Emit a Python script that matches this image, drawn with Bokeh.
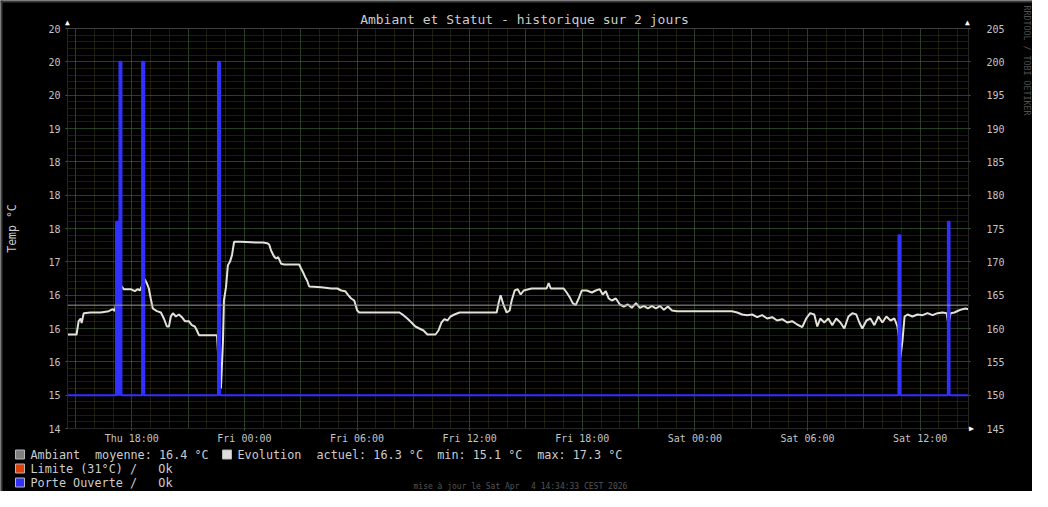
import math
from bokeh.plotting import figure
from bokeh.models import Range1d, LinearAxis, FixedTicker, Span
from bokeh.core.properties import value
from bokeh.embed import file_html
from bokeh.resources import INLINE

# ---------------- data ----------------
title_text = "Ambiant et Statut - historique sur 2 jours"
y_axis_title = "Temp °C"
watermark = "RRDTOOL / TOBI OETIKER"
footer_parts = ["mise à jour le Sat Apr", "4 14:34:33 CEST 2026"]

# time in hours since Thu 00:00
x_start, x_end = 14.576, 62.576
x_tick_hours = [18, 24, 30, 36, 42, 48, 54, 60]
x_tick_labels = ["Thu 18:00", "Fri 00:00", "Fri 06:00", "Fri 12:00",
                 "Fri 18:00", "Sat 00:00", "Sat 06:00", "Sat 12:00"]
x_grid_major = [15, 18, 21, 24, 27, 30, 33, 36, 39, 42, 45, 48, 51, 54, 57, 60]
x_grid_minor = [h for h in range(15, 63) if h % 3 != 0]

left_range = (14.5, 20.5)
left_tick_values = [14.5, 15.0, 15.5, 16.0, 16.5, 17.0, 17.5, 18.0, 18.5, 19.0, 19.5, 20.0, 20.5]
left_tick_labels = ["14", "15", "16", "16", "16", "17", "18", "18", "18", "19", "20", "20", "20"]
right_range = (145, 205)
right_tick_values = [145, 150, 155, 160, 165, 170, 175, 180, 185, 190, 195, 200, 205]

amb_hours = [14.58, 15.06, 15.17, 15.28, 15.33, 15.44, 15.81, 16.35, 16.77, 16.99, 17.09,
             17.20, 17.31, 17.41, 17.57, 17.95, 18.16, 18.32, 18.43, 18.53, 18.69, 18.80,
             18.91, 19.01, 19.12, 19.34, 19.55, 19.71, 19.87, 19.98, 20.08, 20.19, 20.35,
             20.51, 20.67, 20.83, 21.04, 21.20, 21.36, 21.47, 21.58, 22.22, 22.54, 22.65,
             22.75, 22.86, 22.91, 23.02, 23.12, 23.23, 23.34, 23.45, 23.82, 24.62, 24.99,
             25.21, 25.32, 25.42, 25.58, 25.69, 25.80, 25.96, 26.12, 26.92, 27.02, 27.13,
             27.24, 27.34, 27.45, 28.09, 28.63, 28.95, 29.16, 29.37, 29.53, 29.69, 29.85,
             30.01, 30.12, 32.26, 32.47, 32.68, 32.90, 33.11, 33.32, 33.54, 33.75, 34.18,
             34.34, 34.50, 34.66, 34.82, 34.98, 35.19, 35.46, 37.44, 37.54, 37.65, 37.81,
             37.97, 38.13, 38.24, 38.40, 38.56, 38.72, 38.88, 39.30, 40.10, 40.21, 40.32,
             41.01, 41.17, 41.33, 41.49, 41.65, 41.81, 41.97, 42.24, 42.51, 42.72, 42.93,
             43.09, 43.25, 43.41, 43.57, 43.79, 44.00, 44.21, 44.43, 44.64, 44.86, 45.07,
             45.28, 45.50, 45.71, 45.92, 46.14, 46.35, 46.56, 46.78, 47.05, 49.98, 50.25,
             50.52, 50.78, 51.05, 51.32, 51.58, 51.85, 52.12, 52.38, 52.65, 52.92, 53.18,
             53.45, 53.72, 53.93, 54.14, 54.36, 54.52, 54.68, 54.89, 55.11, 55.32, 55.53,
             55.75, 55.96, 56.18, 56.39, 56.60, 56.76, 56.92, 57.14, 57.35, 57.56, 57.78,
             57.99, 58.20, 58.42, 58.63, 58.79, 58.90, 58.95, 59.06, 59.17, 59.33, 59.59,
             59.86, 60.13, 60.39, 60.66, 60.93, 61.19, 61.41, 61.51, 61.62, 61.83, 62.05,
             62.26, 62.42, 62.57]
amb_temp = [15.91, 15.91, 16.11, 16.15, 16.08, 16.23, 16.24, 16.24, 16.26, 16.29, 16.26,
            16.42, 16.60, 16.65, 16.59, 16.59, 16.56, 16.59, 16.57, 16.63, 16.74, 16.68,
            16.60, 16.45, 16.30, 16.26, 16.24, 16.15, 16.03, 16.03, 16.18, 16.23, 16.18,
            16.21, 16.17, 16.11, 16.11, 16.05, 16.03, 15.97, 15.90, 15.90, 15.90, 15.37,
            15.10, 15.82, 16.42, 16.62, 16.95, 17.00, 17.10, 17.30, 17.30, 17.29, 17.29,
            17.28, 17.26, 17.17, 17.08, 17.05, 17.07, 16.97, 16.96, 16.96, 16.90, 16.84,
            16.77, 16.72, 16.63, 16.62, 16.60, 16.60, 16.57, 16.56, 16.50, 16.45, 16.42,
            16.27, 16.24, 16.24, 16.20, 16.15, 16.09, 16.03, 16.00, 15.97, 15.91, 15.91,
            15.97, 16.09, 16.14, 16.12, 16.18, 16.21, 16.24, 16.24, 16.38, 16.50, 16.35,
            16.24, 16.27, 16.42, 16.57, 16.59, 16.51, 16.57, 16.60, 16.60, 16.68, 16.60,
            16.60, 16.54, 16.47, 16.38, 16.35, 16.45, 16.57, 16.57, 16.54, 16.57, 16.59,
            16.51, 16.56, 16.45, 16.42, 16.45, 16.36, 16.33, 16.36, 16.31, 16.38, 16.31,
            16.34, 16.30, 16.34, 16.30, 16.34, 16.28, 16.33, 16.27, 16.26, 16.26, 16.24,
            16.21, 16.20, 16.21, 16.17, 16.20, 16.15, 16.17, 16.12, 16.14, 16.09, 16.11,
            16.06, 16.02, 16.15, 16.23, 16.21, 16.03, 16.15, 16.09, 16.15, 16.05, 16.15,
            16.09, 16.00, 16.18, 16.23, 16.21, 16.09, 16.00, 16.12, 16.15, 16.05, 16.18,
            16.09, 16.18, 16.12, 16.15, 16.03, 15.82, 15.57, 15.82, 16.18, 16.21, 16.18,
            16.21, 16.20, 16.23, 16.20, 16.23, 16.24, 16.23, 16.05, 16.23, 16.24, 16.27,
            16.29, 16.30, 16.29]
ambient_mean = 16.35

door_hours = [14.576, 17.162, 17.343, 17.450, 18.550, 18.667, 22.592, 22.698,
              58.843, 58.950, 61.476, 61.567, 62.576]
door_level = [15.0, 17.6, 20.0, 15.0, 20.0, 15.0, 20.0, 15.0, 17.4, 15.0, 17.6, 15.0, 15.0]
door_base = 15.0

# legend: (swatch colour, [text pieces]) per entry
legend_ambiant = ("#808080", ["Ambiant", "moyenne: 16.4 °C"])
legend_evolution = ("#dddddd", ["Evolution", "actuel: 16.3 °C", "min: 15.1 °C", "max: 17.3 °C"])
legend_limite = ("#e0400a", ["Limite (31°C) /", "Ok"])
legend_porte = ("#3030ff", ["Porte Ouverte /", "Ok"])

# ---------------- styling ----------------
MONO = "DejaVu Sans Mono"
BLUE = "#3030ff"
WHITE_LINE = "#e2e2da"
TXT = "#cccccc"

FL, FR, FT, FB = 67, 968, 28, 428      # frame edges in canvas pixels
W, H = 1032, 491


def dx(xp):
    return x_start + (xp - FL) / (FR - FL) * (x_end - x_start)


def dy(yp):
    return left_range[0] + (FB - yp) / (FB - FT) * (left_range[1] - left_range[0])


p = figure(frame_width=FR - FL, frame_height=FB - FT,
           min_border_left=FL, min_border_right=W - FR, min_border_top=FT, min_border_bottom=H - FB,
           x_range=Range1d(x_start, x_end), y_range=Range1d(*left_range),
           output_backend="svg", toolbar_location=None, title=None,
           background_fill_color="#000000", border_fill_color="#000000",
           outline_line_color=None)

p.extra_y_ranges = {"right": Range1d(*right_range)}
ra = LinearAxis(y_range_name="right", ticker=FixedTicker(ticks=right_tick_values))
p.add_layout(ra, "right")

xa = p.xaxis[0]
xa.ticker = FixedTicker(ticks=x_tick_hours)
xa.major_label_overrides = {h: l for h, l in zip(x_tick_hours, x_tick_labels)}
ya = p.yaxis[0]
ya.ticker = FixedTicker(ticks=left_tick_values)
ya.major_label_overrides = {v: l for v, l in zip(left_tick_values, left_tick_labels)}

for ax in (xa, ya, ra):
    ax.axis_line_color = "#262626"
    ax.major_tick_line_color = "#3f5f3f"
    ax.major_tick_in = 0
    ax.major_tick_out = 2
    ax.minor_tick_line_color = None
    ax.major_label_text_font = MONO
    ax.major_label_text_font_size = "10px"
    ax.major_label_text_color = "#c4c4c4"
xa.major_label_standoff = 2
ya.major_label_standoff = 5
ra.major_label_standoff = 16

y_minor = [round(14.5 + 0.1 * i, 1) for i in range(61) if i % 5 != 0]
p.xgrid.ticker = FixedTicker(ticks=x_grid_major, minor_ticks=x_grid_minor)
p.ygrid.ticker = FixedTicker(ticks=left_tick_values, minor_ticks=y_minor)
for g in (p.xgrid[0], p.ygrid[0]):
    g.grid_line_color = "#4f7f48"
    g.grid_line_dash = "1 1"
    g.grid_line_width = 1
    g.minor_grid_line_color = "#3a3a14"
    g.minor_grid_line_dash = "1 1"
    g.minor_grid_line_width = 1

# mean line
p.add_layout(Span(location=ambient_mean, dimension="width", line_color="#9a9a9a", line_width=1))
# ambient line
p.line(amb_hours, amb_temp, line_color=WHITE_LINE, line_width=2)
# door series
p.varea_step(x=door_hours, y1=[door_base] * len(door_hours), y2=door_level,
             step_mode="after", fill_color=BLUE)
p.step(door_hours, door_level, mode="after", line_color=BLUE, line_width=2)


def add_text(txt, xp, yp, size, color, align="left", angle=0.0):
    p.text(x=[dx(xp)], y=[dy(yp)], text=[txt], text_font=value(MONO),
           text_font_size=value(size), text_color=color, text_align=align,
           text_baseline="middle", angle=angle, level="overlay")


def add_box(x0, y0, x1, y1, color, line_color="#b8b8b8"):
    p.quad(left=[dx(x0)], right=[dx(x1)], top=[dy(y0)], bottom=[dy(y1)],
           fill_color=color, line_color=line_color, line_width=1, level="overlay")


# outer frame strips (top / left)
add_box(0, 0, W, 2, "#3c3c3c", line_color=None)
add_box(0, 0, 2, H, "#3c3c3c", line_color=None)

add_text(title_text, 524, 19, "13px", TXT, align="center")
add_text(y_axis_title, 11, 228, "11.5px", TXT, align="center", angle=math.pi / 2)
add_text(watermark, 1026, 60, "8.3px", "#505050", align="center", angle=-math.pi / 2)
add_text(footer_parts[0], 413, 486, "8px", "#555555")
add_text(footer_parts[1], 530.5, 486, "8px", "#555555")

# arrows
add_text("▲", 67, 22, "8px", "#ffffff", align="center")
add_text("▲", 967, 22, "8px", "#ffffff", align="center")
add_text("▶", 971, 428, "8px", "#ffffff", align="center")

# legend
SZ = "11.8px"
row_y = [454, 468, 482]
entries = [
    (legend_ambiant, 15, row_y[0], [30, 94.5]),
    (legend_evolution, 222, row_y[0], [237, 316, 436.7, 536.7]),
    (legend_limite, 15, row_y[1], [30, 157.8]),
    (legend_porte, 15, row_y[2], [30, 157.8]),
]
for (col, parts), bx, yc, xs in entries:
    add_box(bx, yc - 4.5, bx + 9, yc + 4.5, col)
    for txt, xp in zip(parts, xs):
        add_text(txt, xp, yc, SZ, TXT)

open("out.html", "w").write(file_html(p, INLINE))
